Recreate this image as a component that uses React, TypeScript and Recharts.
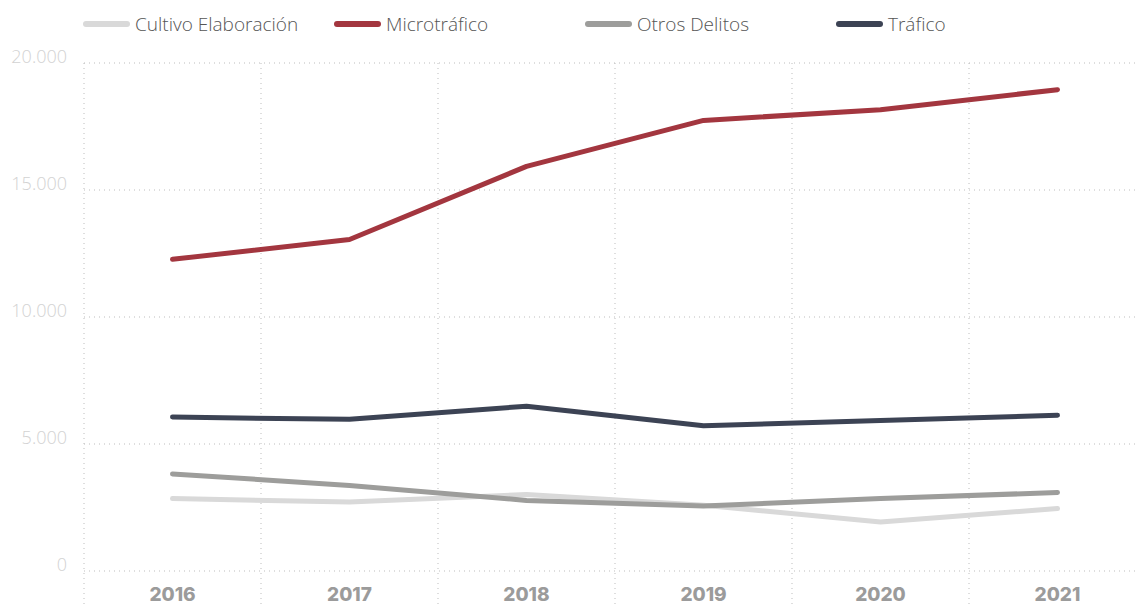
import { LineChart, Line, XAxis, YAxis, CartesianGrid } from "recharts";

const years = ["2016", "2017", "2018", "2019", "2020", "2021"];
const cultivo = [2850, 2720, 3010, 2590, 1930, 2460];
const microtrafico = [12270, 13050, 15930, 17740, 18160, 18950];
const otros = [3820, 3370, 2780, 2560, 2850, 3090];
const trafico = [6060, 5970, 6490, 5720, 5930, 6130];
const yTicks = [0, 5000, 10000, 15000, 20000];

const series = [
  { key: "cultivo", name: "Cultivo Elaboración", color: "#d9d9d9" },
  { key: "microtrafico", name: "Microtráfico", color: "#a3363f" },
  { key: "otros", name: "Otros Delitos", color: "#9d9d9b" },
  { key: "trafico", name: "Tráfico", color: "#3c4354" },
];

const data = years.map((year, i) => ({
  year,
  cultivo: cultivo[i],
  microtrafico: microtrafico[i],
  otros: otros[i],
  trafico: trafico[i],
}));

// 20000 -> "20.000"
const fmt = (v: number) => String(v).replace(/\B(?=(\d{3})+(?!\d))/g, ".");

const YTick = ({ x, y, payload }: any) => (
  <text
    x={x}
    y={y}
    dy={-5}
    textAnchor="end"
    dominantBaseline="middle"
    fill="#d2d2d2"
    fontSize={18}
    fontWeight={300}
    fontFamily="'Open Sans', sans-serif"
  >
    {fmt(payload.value)}
  </text>
);

const XTick = ({ x, y, payload }: any) => (
  <text
    x={x}
    y={y}
    textAnchor="middle"
    dominantBaseline="middle"
    fill="#9b9b9b"
    fontSize={19}
    fontWeight={800}
    fontFamily="Inter, sans-serif"
  >
    {payload.value}
  </text>
);

// vertical grid at the band boundaries, not at the points
const bandLines = ({ offset }: any) =>
  Array.from({ length: years.length + 1 }, (_, i) => offset.left + (i * offset.width) / years.length);

export default function App() {
  return (
    <div
      style={{
        position: "fixed",
        left: 0,
        top: 0,
        width: 1139,
        height: 605,
        overflow: "hidden",
        background: "#fff",
      }}
    >
      {/* Legend */}
      <div
        style={{
          position: "absolute",
          left: 83,
          top: 11,
          display: "flex",
          fontFamily: "'Open Sans', sans-serif",
          fontWeight: 300,
          fontSize: 19,
          color: "#555",
        }}
      >
        {series.map((s) => (
          <div key={s.key} style={{ width: 251, display: "flex", alignItems: "center" }}>
            <div style={{ width: 47, height: 6, borderRadius: 3, background: s.color, marginRight: 5 }} />
            <span>{s.name}</span>
          </div>
        ))}
      </div>

      <div style={{ position: "absolute", left: 0, top: 0 }}>
        <LineChart width={1150} height={616} data={data} margin={{ top: 63, right: 4, left: 0, bottom: 0 }}>
          <CartesianGrid
            stroke="#bdbdbd"
            strokeDasharray="1 4"
            height={560}
            verticalCoordinatesGenerator={bandLines}
          />
          <XAxis
            dataKey="year"
            scale="band"
            axisLine={false}
            tickLine={false}
            tickSize={0}
            tickMargin={25}
            height={45}
            tick={<XTick />}
            interval={0}
          />
          <YAxis
            domain={[0, 20000]}
            ticks={yTicks}
            axisLine={false}
            tickLine={false}
            tickSize={0}
            tickMargin={17}
            width={84}
            tick={<YTick />}
            interval={0}
          />
          {series.map((s) => (
            <Line
              key={s.key}
              type="linear"
              dataKey={s.key}
              name={s.name}
              stroke={s.color}
              strokeWidth={5}
              strokeLinecap="round"
              strokeLinejoin="round"
              dot={false}
              activeDot={false}
              isAnimationActive={false}
            />
          ))}
        </LineChart>
      </div>
    </div>
  );
}
